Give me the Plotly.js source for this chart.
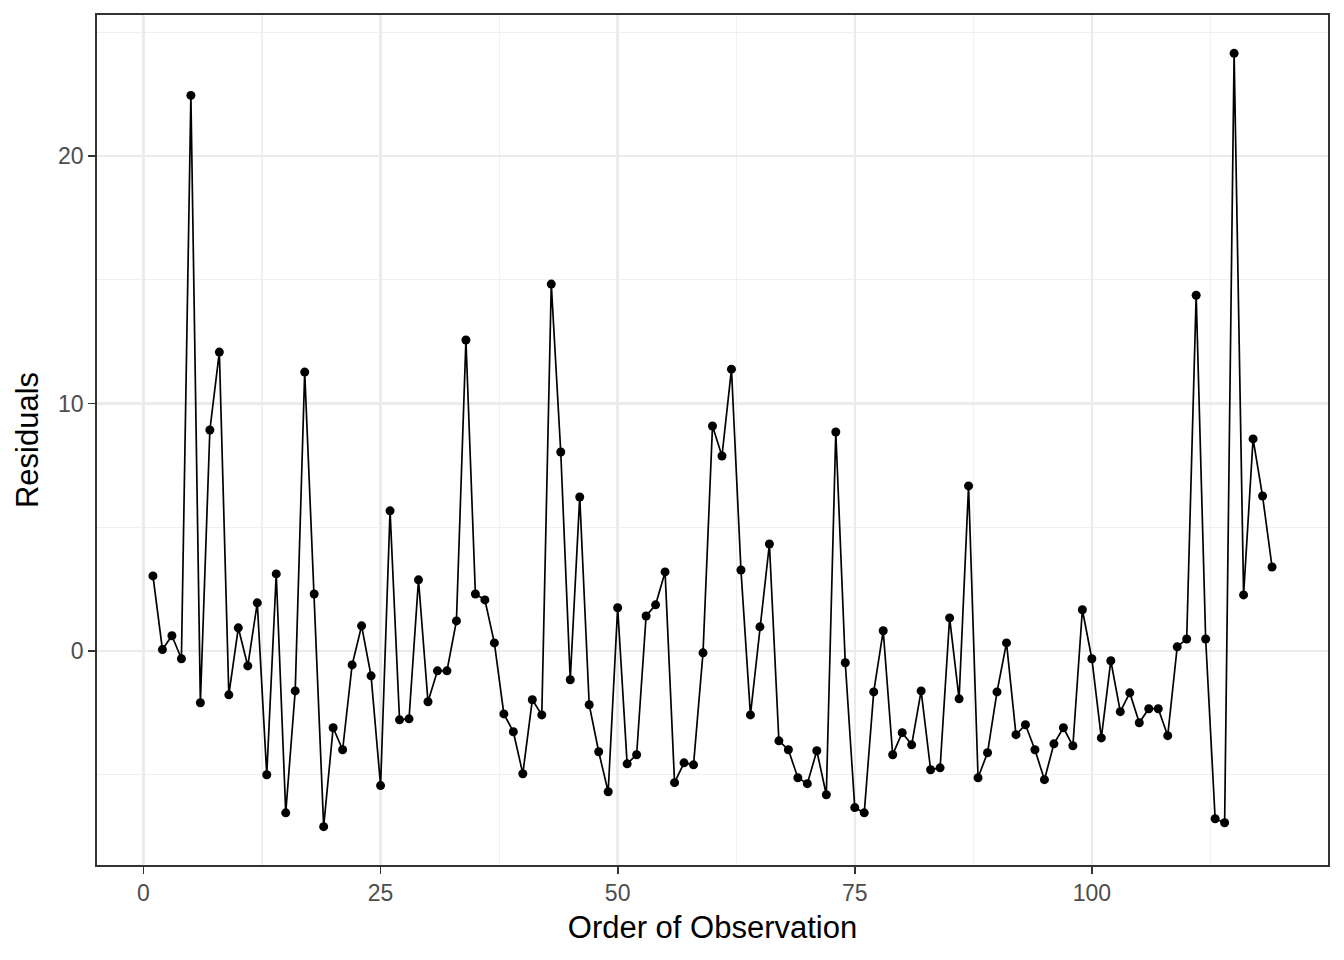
<!DOCTYPE html>
<html>
<head>
<meta charset="utf-8">
<script src="https://cdn.plot.ly/plotly-3.0.1.min.js"></script>
<style>html,body{margin:0;padding:0;background:#fff;}#chart{width:1344px;height:960px;}</style>
</head>
<body>
<div id="chart"></div>
<script>
const order = Array.from({length: 119}, (_, i) => i + 1);
const residuals = [
  3.03, 0.05, 0.61, -0.32, 22.46, -2.10, 8.93, 12.08, -1.78, 0.93,
  -0.61, 1.94, -5.01, 3.11, -6.55, -1.62, 11.27, 2.30, -7.11, -3.11,
  -4.00, -0.57, 1.01, -1.01, -5.45, 5.66, -2.79, -2.75, 2.87, -2.06,
  -0.81, -0.81, 1.21, 12.57, 2.30, 2.06, 0.32, -2.55, -3.27, -4.97,
  -1.98, -2.59, 14.83, 8.04, -1.17, 6.22, -2.18, -4.08, -5.70, 1.74,
  -4.57, -4.20, 1.41, 1.86, 3.19, -5.33, -4.53, -4.61, -0.08, 9.09,
  7.88, 11.39, 3.27, -2.59, 0.97, 4.32, -3.64, -4.00, -5.13, -5.37,
  -4.04, -5.82, 8.85, -0.48, -6.34, -6.55, -1.66, 0.81, -4.20, -3.31,
  -3.80, -1.62, -4.81, -4.73, 1.33, -1.94, 6.67, -5.13, -4.12, -1.66,
  0.32, -3.39, -2.99, -4.00, -5.21, -3.76, -3.11, -3.84, 1.66, -0.32,
  -3.52, -0.40, -2.46, -1.70, -2.91, -2.34, -2.34, -3.43, 0.16, 0.48,
  14.38, 0.48, -6.79, -6.95, 24.16, 2.26, 8.57, 6.26, 3.39
];
const xTicks = [0, 25, 50, 75, 100];
const yTicks = [0, 10, 20];

const trace = {
  x: order, y: residuals, type: 'scatter', mode: 'lines+markers',
  line: {color: '#000000', width: 1.7},
  marker: {color: '#000000', size: 9},
  hoverinfo: 'x+y'
};

const FONT = 'Liberation Sans, Arial, sans-serif';
const axisCommon = {
  showline: true, mirror: true, linecolor: '#333333', linewidth: 1.8,
  ticks: 'outside', ticklen: 7, tickcolor: '#333333', tickwidth: 1.8,
  gridcolor: '#EBEBEB', gridwidth: 2.4, zeroline: false,
  tickfont: {family: FONT, size: 23, color: '#4D4D4D'}
};

const layout = {
  width: 1344, height: 960,
  margin: {l: 97, r: 16, t: 15, b: 95},
  paper_bgcolor: '#ffffff', plot_bgcolor: '#ffffff',
  showlegend: false,
  xaxis: Object.assign({}, axisCommon, {
    range: [-4.9, 124.9], tickmode: 'array', tickvals: xTicks, ticktext: xTicks.map(String),
    minor: {dtick: 12.5, tick0: 0, showgrid: true, gridcolor: '#F0F0F0', gridwidth: 1.2, ticks: ''},
    title: {text: 'Order of Observation', standoff: 11,
      font: {family: FONT, size: 31, color: '#000000'}}
  }),
  yaxis: Object.assign({}, axisCommon, {
    range: [-8.66, 25.71], tickmode: 'array', tickvals: yTicks, ticktext: yTicks.map(String),
    minor: {dtick: 5, tick0: 0, showgrid: true, gridcolor: '#F0F0F0', gridwidth: 1.2, ticks: ''},
    title: {text: 'Residuals', standoff: 10,
      font: {family: FONT, size: 31, color: '#000000'}}
  })
};

Plotly.newPlot('chart', [trace], layout, {displayModeBar: false, staticPlot: true});
</script>
</body>
</html>
